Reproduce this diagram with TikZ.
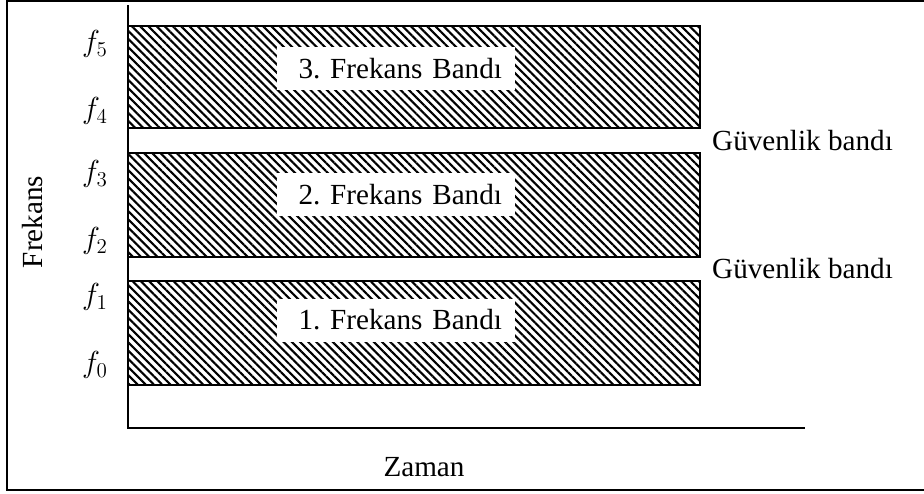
\documentclass[tikz,border=0pt]{standalone}
\usepackage{fontspec}
\setmainfont{Liberation Serif}
\usetikzlibrary{patterns.meta,positioning}
\frenchspacing

\begin{document}
\begin{tikzpicture}[
    font=\fontsize{16.6}{19}\selectfont,
    bandbox/.style={draw,line width=1.1pt,pattern={Lines[angle=-45,distance=3.3pt,line width=1.2pt]}},
    bandlabel/.style={fill=white,minimum width=4.76cm,minimum height=0.86cm,text width=4.24cm,align=right,inner xsep=0.26cm},
    flabel/.style={inner sep=0pt,font=\fontsize{17.5}{19}\selectfont}
  ]
    \useasboundingbox (0,0) rectangle (18.48,9.86);
    % frame
    \draw[line width=0.8pt] (18.48,9.84) -- (0.14,9.84) -- (0.14,0.06) -- (18.48,0.06);
    % axes
    \draw[line width=1.1pt] (2.56,9.76) -- (2.56,1.30) -- (16.10,1.30);
    % the three bands
    \draw[bandbox] (2.56,2.16) rectangle (14.0,4.24);
    \draw[bandbox] (2.56,4.72) rectangle (14.0,6.80);
    \draw[bandbox] (2.56,7.30) rectangle (14.0,9.34);
    \node[bandlabel] (band1) at (7.92,3.46) {1. Frekans Bandı};
    \node[bandlabel] (band2) at (7.92,5.97) {2. Frekans Bandı};
    \node[bandlabel] (band3) at (7.92,8.49) {3. Frekans Bandı};
    % guard bands
    \node[anchor=west] (guard1) at (14.12,4.48) {Güvenlik bandı};
    \node[anchor=west] (guard2) at (14.12,7.04) {Güvenlik bandı};
    % frequency marks
    \foreach \i/\y in {0/2.56,1/3.92,2/5.04,3/6.38,4/7.64,5/8.98}{
      \node[flabel] (f\i) at (1.9,\y) {$f_{\i}$};
    }
    % axis names
    \node[rotate=90] (freq) at (0.66,5.42) {Frekans};
    \node (time) at (8.48,0.52) {Zaman};
  \end{tikzpicture}
\end{document}
